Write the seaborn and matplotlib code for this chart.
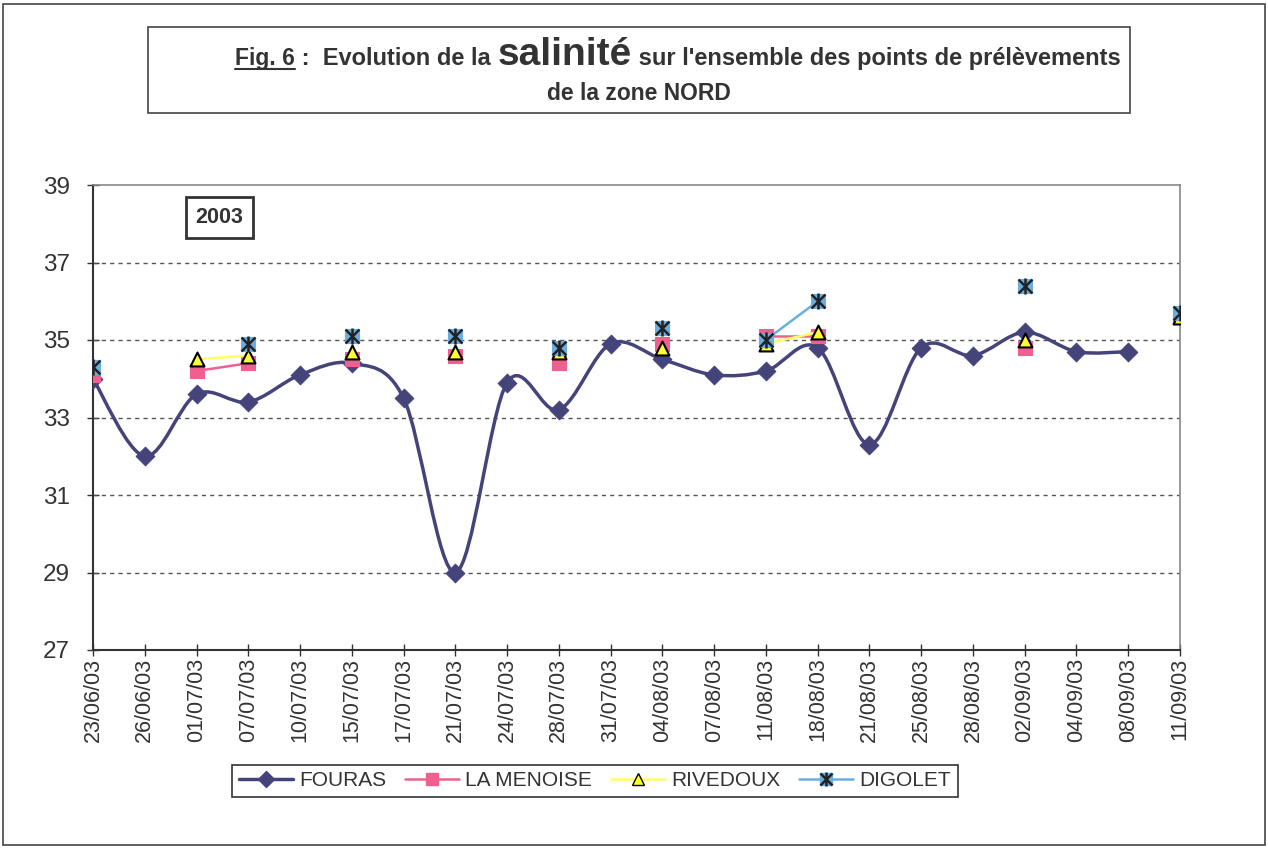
import numpy as np
import pandas as pd
import matplotlib
matplotlib.use("Agg")
import matplotlib.pyplot as plt
import seaborn as sns
from matplotlib.path import Path
from matplotlib.patches import PathPatch, Rectangle
from matplotlib.lines import Line2D

# Data
dates = ['23/06/03', '26/06/03', '01/07/03', '07/07/03', '10/07/03', '15/07/03',
         '17/07/03', '21/07/03', '24/07/03', '28/07/03', '31/07/03', '04/08/03',
         '07/08/03', '11/08/03', '18/08/03', '21/08/03', '25/08/03', '28/08/03',
         '02/09/03', '04/09/03', '08/09/03', '11/09/03']
nan = np.nan
fouras = [34.0, 32.0, 33.6, 33.4, 34.1, 34.4, 33.5, 29.0, 33.9, 33.2, 34.9, 34.5,
          34.1, 34.2, 34.8, 32.3, 34.8, 34.6, 35.2, 34.7, 34.7, nan]
la_menoise = [34.1, nan, 34.2, 34.4, nan, 34.5, nan, 34.6, nan, 34.4, nan, 34.9,
              nan, 35.1, 35.1, nan, nan, nan, 34.8, nan, nan, 35.6]
rivedoux = [nan, nan, 34.5, 34.6, nan, 34.7, nan, 34.7, nan, 34.7, nan, 34.8,
            nan, 34.9, 35.2, nan, nan, nan, 35.0, nan, nan, 35.6]
digolet = [34.3, nan, nan, 34.9, nan, 35.1, nan, 35.1, nan, 34.8, nan, 35.3,
           nan, 35.0, 36.0, nan, nan, nan, 36.4, nan, nan, 35.7]

sns.set_style("white")
plt.rcParams['font.family'] = ['Liberation Sans', 'DejaVu Sans']

W, H = 1268, 849
fig = plt.figure(figsize=(W / 100, H / 100), dpi=100)

def fx(px):
    return px / W

def fy(py):
    return 1 - py / H

ax = fig.add_axes([fx(93), fy(650), fx(1180) - fx(93), fy(185) - fy(650)])

x = np.arange(len(dates))

# FOURAS : smoothed line like excel (bezier through points)
navy = '#44447a'
fv = np.array(fouras)
ok = ~np.isnan(fv)
px_, py_ = x[ok].astype(float), fv[ok]
verts = [(px_[0], py_[0])]
codes = [Path.MOVETO]
n = len(px_)
for i in range(n - 1):
    p0 = np.array([px_[max(i - 1, 0)], py_[max(i - 1, 0)]])
    p1 = np.array([px_[i], py_[i]])
    p2 = np.array([px_[i + 1], py_[i + 1]])
    p3 = np.array([px_[min(i + 2, n - 1)], py_[min(i + 2, n - 1)]])
    c1 = p1 + (p2 - p0) / 6
    c2 = p2 - (p3 - p1) / 6
    verts += [tuple(c1), tuple(c2), tuple(p2)]
    codes += [Path.CURVE4] * 3
ax.add_patch(PathPatch(Path(verts, codes), facecolor='none', edgecolor=navy, lw=2.5, zorder=3))
sns.scatterplot(x=px_, y=py_, marker='D', s=90, color=navy, edgecolor=navy, ax=ax, zorder=4)

# other series: lines broken at missing values
def segs(vals, name):
    rows = []
    seg = 0
    for i, v in enumerate(vals):
        if np.isnan(v):
            seg += 1
        else:
            rows.append((i, v, seg, name))
    return pd.DataFrame(rows, columns=['x', 'y', 'seg', 'serie'])

pink = '#f0608e'
yellow = '#ffff66'
blue = '#6aaee0'

df_m = segs(la_menoise, 'LA MENOISE')
df_r = segs(rivedoux, 'RIVEDOUX')
df_d = segs(digolet, 'DIGOLET')

sns.lineplot(data=df_m, x='x', y='y', units='seg', estimator=None, color=pink, lw=1.8, ax=ax, zorder=5)
sns.scatterplot(data=df_m, x='x', y='y', marker='s', s=100, color=pink, edgecolor=pink, ax=ax, zorder=6)
sns.lineplot(data=df_r, x='x', y='y', units='seg', estimator=None, color=yellow, lw=1.8, ax=ax, zorder=7)
sns.lineplot(data=df_d, x='x', y='y', units='seg', estimator=None, color=blue, lw=1.8, ax=ax, zorder=7)
sns.scatterplot(data=df_r, x='x', y='y', marker='^', s=100, color='#ffff33', edgecolor='black', linewidth=1.5, ax=ax, zorder=8)
sns.scatterplot(data=df_d, x='x', y='y', marker='s', s=100, color=blue, edgecolor=blue, ax=ax, zorder=9)
sns.scatterplot(data=df_d, x='x', y='y', marker='x', s=100, color='#222222', linewidth=1.8, ax=ax, zorder=10)
sns.scatterplot(data=df_d, x='x', y='y', marker='|', s=120, color='#222222', linewidth=1.8, ax=ax, zorder=10)

# axes
ax.set_xlim(0, len(dates) - 1)
ax.set_ylim(27, 39)
ax.set_yticks([27, 29, 31, 33, 35, 37, 39])
ax.set_xticks(x)
ax.set_xticklabels(dates, rotation=90, fontsize=15.5, color='#333333')
ax.tick_params(axis='y', labelsize=17.5, pad=12, labelcolor='#333333')
ax.tick_params(axis='x', pad=1)
ax.tick_params(direction='inout', length=9, width=1, color='#333333', bottom=True, left=True)
ax.set_xlabel('')
ax.set_ylabel('')
for yv in [29, 31, 33, 35, 37]:
    ax.axhline(yv, color='#555555', lw=1, ls=(0, (3, 3)), zorder=1)
for s in ['left', 'bottom']:
    ax.spines[s].set_color('#333333')
    ax.spines[s].set_linewidth(1.5)
for s in ['top', 'right']:
    ax.spines[s].set_color('#888888')
    ax.spines[s].set_linewidth(1.2)

ax.text(0.1164, 0.930, '2003', transform=ax.transAxes, ha='center', va='center',
        fontsize=15.5, fontweight='bold', color='#333333',
        bbox=dict(boxstyle='square,pad=0.45', facecolor='white', edgecolor='#333333', lw=2))

# legend
handles = [
    Line2D([], [], color=navy, lw=2.5, marker='D', markersize=8),
    Line2D([], [], color=pink, lw=1.8, marker='s', markersize=9),
    Line2D([], [], color=yellow, lw=1.8, marker='^', markersize=9, markerfacecolor='#ffff33', markeredgecolor='black'),
    (Line2D([], [], color=blue, lw=1.8, marker='s', markersize=9),
     Line2D([], [], ls='none', marker='x', markersize=9, color='#222222', markeredgewidth=1.8),
     Line2D([], [], ls='none', marker='|', markersize=10, color='#222222', markeredgewidth=1.8)),
]
leg = fig.legend(handles, ['FOURAS', 'LA MENOISE', 'RIVEDOUX', 'DIGOLET'], ncol=4,
                 loc='center', bbox_to_anchor=(fx(595), fy(781)), fontsize=15,
                 frameon=True, fancybox=False, edgecolor='black', borderpad=0.3,
                 handlelength=2.6, handletextpad=0.3, columnspacing=0.9)
leg.get_frame().set_linewidth(1.2)
for t in leg.get_texts():
    t.set_color('#333333')

# outer frame and title box
fig.patches.append(Rectangle((fx(3), fy(845)), fx(1265) - fx(3), fy(4) - fy(845),
                             transform=fig.transFigure, fill=False, edgecolor='#444444', lw=1.2))
fig.patches.append(Rectangle((fx(148), fy(113)), fx(1130) - fx(148), fy(27) - fy(113),
                             transform=fig.transFigure, fill=False, edgecolor='#444444', lw=1.2))

# title, mixed sizes
tc = '#333333'
parts = [('Fig. 6', 16.5), (' :  Evolution de la ', 17), ('salinité', 28), (" sur l'ensemble des points de prélèvements", 17)]
texts = [fig.text(0, fy(65), p, fontsize=s, fontweight='bold', color=tc, va='baseline', ha='left')
         for p, s in parts]
fig.canvas.draw()
r = fig.canvas.get_renderer()
widths = [t.get_window_extent(r).width for t in texts]
xstart = fx(678) * W - sum(widths) / 2
cur = xstart
for t, w in zip(texts, widths):
    t.set_x(cur / W)
    cur += w
fig.lines.append(Line2D([xstart / W, (xstart + widths[0]) / W], [fy(69), fy(69)],
                        transform=fig.transFigure, color=tc, lw=1.5))
fig.text(fx(639), fy(100), 'de la zone NORD', fontsize=16.5, fontweight='bold', color=tc,
         ha='center', va='baseline')

fig.savefig('out.png', dpi=100)
